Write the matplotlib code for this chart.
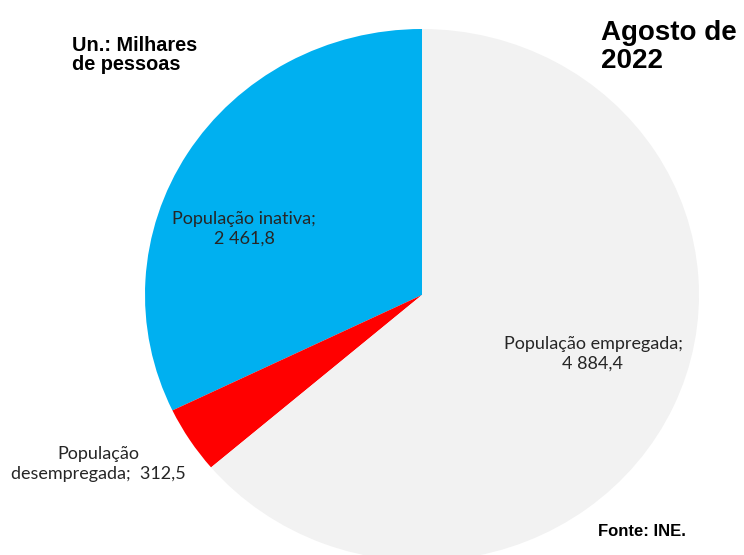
import matplotlib
matplotlib.use("Agg")
import matplotlib.pyplot as plt

# Population by labour status, August 2022 (thousands)
categories = ["População inativa", "População desempregada", "População empregada"]
values = [2461.8, 312.5, 4884.4]
value_labels = ["2 461,8", "312,5", "4 884,4"]
colors = ["#00B0F0", "#FF0000", "#F2F2F2"]

W, H = 744, 555
fig = plt.figure(figsize=(W / 100, H / 100), dpi=100)

# pie center and radii in pixels (slightly wider than tall)
cx, cy, rx, ry = 422, 295, 277, 266
ax = fig.add_axes([(cx - rx) / W, 1 - (cy + ry) / H, 2 * rx / W, 2 * ry / H])
ax.pie(values, colors=colors, startangle=90, counterclock=True,
       radius=1, center=(0, 0), wedgeprops=dict(linewidth=0))
ax.set_aspect("auto")
ax.set_xlim(-1, 1)
ax.set_ylim(-1, 1)
ax.axis("off")


def px(x, y):
    return x / W, 1 - y / H


label_font = dict(family="Lato", fontsize=13, color="#262626",
                  ha="center", va="center", linespacing=1.3)
fig.text(*px(244, 229), f"{categories[0]};\n{value_labels[0]}", **label_font)
fig.text(*px(98, 464), "População\ndesempregada;  " + value_labels[1], **label_font)
fig.text(*px(593, 354), f"{categories[2]};\n{value_labels[2]}", **label_font)

# multi-line texts are anchored on the baseline of their last line
fig.text(*px(601, 68), "Agosto de\n2022", family="Liberation Sans",
         fontweight="bold", fontsize=20, ha="left", va="baseline",
         linespacing=1.1)
fig.text(*px(72, 70), "Un.: Milhares\nde pessoas", family="Liberation Sans",
         fontweight="bold", fontsize=14.3, ha="left", va="baseline",
         linespacing=1.0)
fig.text(*px(598, 536), "Fonte: INE.", family="Liberation Sans",
         fontweight="bold", fontsize=12, ha="left", va="baseline")

fig.savefig("out.png", dpi=100, facecolor="white")
